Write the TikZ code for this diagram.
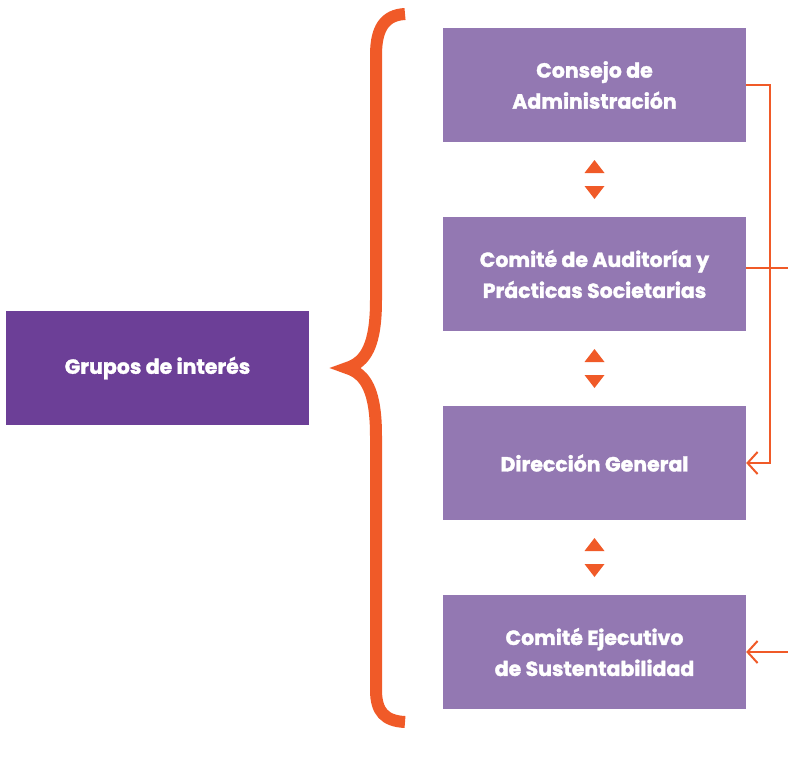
\documentclass[tikz,border=0pt]{standalone}
\usepackage{fontspec}
\setmainfont{Poppins}[BoldFeatures={FakeBold=1.6}]
\usetikzlibrary{arrows.meta,calc}

\definecolor{lila}{HTML}{9378B2}
\definecolor{morado}{HTML}{6C3F97}
\definecolor{naranja}{HTML}{F05A28}

\begin{document}
\begin{tikzpicture}[x=1pt,y=-1pt,
		caja/.style={fill=lila,minimum width=303pt,minimum height=114pt,inner sep=0pt,
			text=white,align=center,font=\fontsize{20.5}{31}\selectfont\bfseries},
		flecha/.style={draw=naranja,line width=2pt,-{Straight Barb[length=10pt,width=22pt]}}]
		\useasboundingbox (0,0) rectangle (788,774);
		
		\node[caja,fill=morado] (grupos) at (157.5,368){Grupos de interés};
		
		\node[caja] (c1) at (594.5,85){Consejo de\\Administración};
		\node[caja] (c2) at (594.5,274){Comité de Auditoría y\\Prácticas Societarias};
		\node[caja] (c3) at (594.5,463){Dirección General};
		\node[caja] (c4) at (594.5,652){Comité Ejecutivo\\de Sustentabilidad};
		
		% llave
		\draw[naranja,line width=12pt] (405,14) .. controls (385,15) and (376,28) .. (376,55)
			-- (376,300) .. controls (376,345) and (366,362) .. (347,368)
			.. controls (366,374) and (376,391) .. (376,436)
			-- (376,690) .. controls (376,712) and (385,721) .. (405,722);
		
		% triangulos
		\foreach \a/\b in {c1/c2,c2/c3,c3/c4}{
			\coordinate (m) at ($(\a.south)!0.5!(\b.north)$);
			\fill[naranja] ($(m)+(0,-19.5)$) -- ($(m)+(10,-6.5)$) -- ($(m)+(-10,-6.5)$) -- cycle;
			\fill[naranja] ($(m)+(0,19.5)$) -- ($(m)+(10,6.5)$) -- ($(m)+(-10,6.5)$) -- cycle;
		}
		
		\coordinate (d2) at (788,268);
		\coordinate (d4) at (788,652);
		\draw[flecha] (c1.east) -- ++(24,0) |- (c3.east);
		\draw[naranja,line width=2pt] (c2.east|-d2) -- (d2);
		\draw[flecha] (d4) -- (c4.east);
	\end{tikzpicture}
\end{document}
